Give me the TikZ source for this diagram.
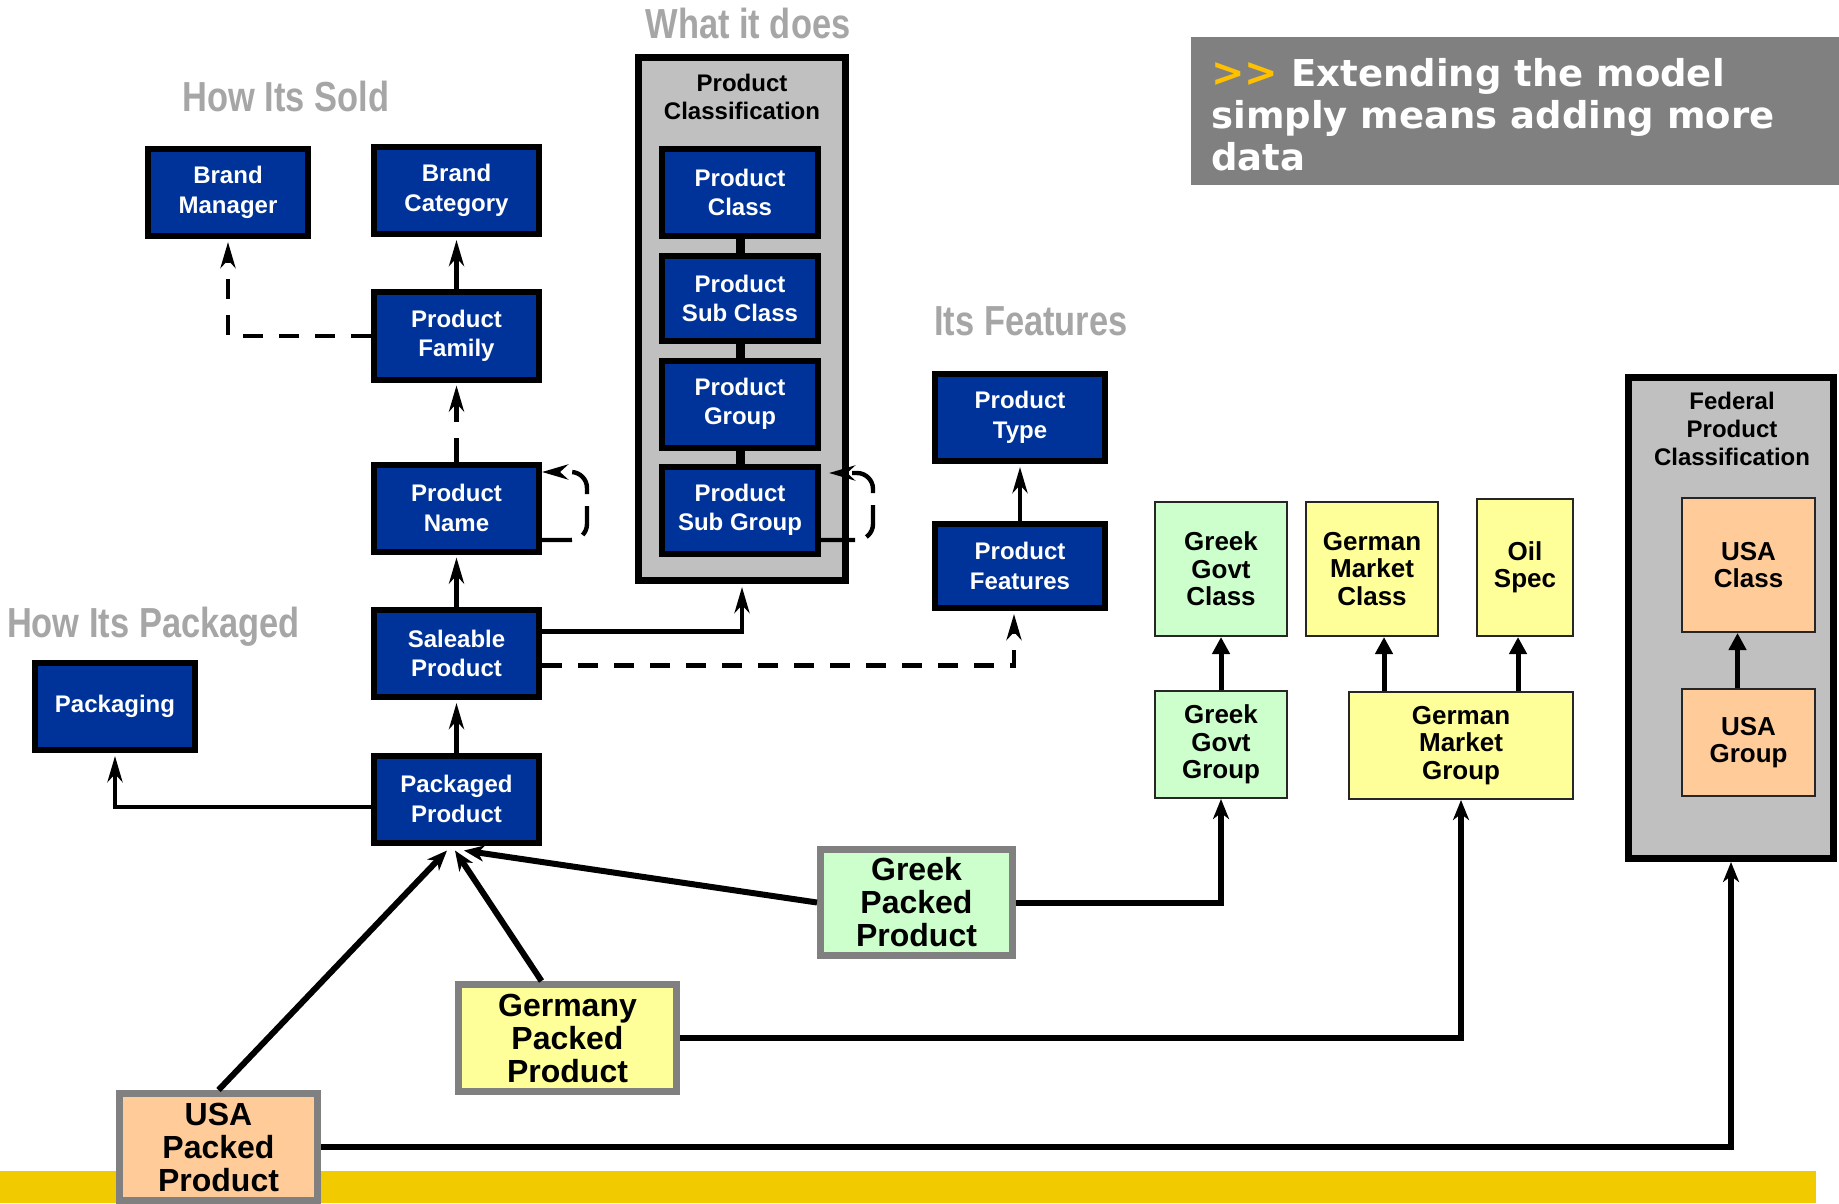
\documentclass[tikz,border=0pt]{standalone}
\usepackage{fontspec}
\setmainfont{Liberation Sans}
\newfontfamily\headfont{Liberation Sans}[FakeStretch=0.82]
\newfontfamily\bannerfont{DejaVu Sans}
\usepackage{tikz}
\usetikzlibrary{arrows.meta}
\definecolor{navybox}{RGB}{0,51,153}
\definecolor{greekbox}{RGB}{204,255,204}
\definecolor{germanbox}{RGB}{255,255,153}
\definecolor{usabox}{RGB}{255,204,153}
\definecolor{panelgrey}{RGB}{192,192,192}
\definecolor{bannergrey}{RGB}{128,128,128}
\definecolor{headgrey}{RGB}{166,166,166}
\definecolor{baryellow}{RGB}{242,202,0}
\definecolor{chevron}{RGB}{255,192,0}

\begin{document}
\begin{tikzpicture}[x=0.5pt, y=-0.5pt,
    navynode/.style={draw=black, line width=3pt, fill=navybox, text=white, font=\bfseries\fontsize{12}{14.75}\selectfont, align=center, inner sep=0pt, minimum width=82.5pt, minimum height=43.5pt},
    panel/.style={draw=black, line width=3.5pt, fill=panelgrey},
    lightnode/.style={draw=black!85, line width=1pt, font=\bfseries\fontsize{13}{13.75}\selectfont, align=center, inner sep=0pt, minimum width=66pt, minimum height=67pt},
    packed/.style={draw=bannergrey, line width=3.5pt, font=\bfseries\fontsize{16}{16.5}\selectfont, align=center, inner sep=0pt},
    heading/.style={text=headgrey, font=\headfont\bfseries\fontsize{21}{24}\selectfont},
    bluelink/.style={line width=2.2pt, shorten >=1.5pt, -{Stealth[length=13pt,width=7.5pt,inset=4pt]}},
    dashlink/.style={bluelink, dash pattern=on 10pt off 8pt},
    packlink/.style={line width=3pt, -{Stealth[length=10pt,width=8pt,inset=3pt]}},
    tlink/.style={line width=2.5pt, -{Triangle[length=8.5pt,width=8.5pt]}}]
          \useasboundingbox (0,0) rectangle (1839,1203);
          \fill[baryellow] (0,1171) rectangle (1816,1203);

          \node[heading] (whatdoes) at (748,23) {What it does};
          \node[heading] (howsold) at (286,96) {How Its Sold};
          \node[heading] (features) at (1031,321) {Its Features};
          \node[heading] (howpack) at (153.5,627) {How Its Packaged};

          \node[fill=bannergrey, minimum width=324pt, minimum height=74pt, inner sep=0pt] (banner) at (1515,111) {};
          \node[anchor=north west, inner sep=0pt, align=left, text=white, font=\bannerfont\bfseries\fontsize{18.5}{21}\selectfont] (bannertext) at (1211,58) {{\color{chevron}\fontsize{20}{21}\selectfont>>} Extending the model\\simply means adding more\\data};

          \node[navynode, minimum width=80pt] (bmgr) at (228,192.5) {Brand\\Manager};
          \node[navynode] (bcat) at (456.5,190.5) {Brand\\Category};
          \node[navynode] (pfam) at (456.5,336) {Product\\Family};
          \node[navynode] (pname) at (456.5,508) {Product\\Name};
          \node[navynode] (sale) at (456.5,653.5) {Saleable\\Product};
          \node[navynode] (ppack) at (456.5,799) {Packaged\\Product};
          \node[navynode, minimum width=80pt] (packg) at (115,706.5) {Packaging};

          \node[panel, minimum width=103.5pt, minimum height=261.5pt] (pclassif) at (742,319) {};
          \node[font=\bfseries\fontsize{12}{14}\selectfont, align=center] (pclasslabel) at (742,97) {Product\\Classification};
          \node[navynode, minimum width=78pt] (pcls) at (740,192.5) {Product\\Class};
          \node[navynode, minimum width=78pt, minimum height=42.5pt] (psubcls) at (740,298.5) {Product\\Sub Class};
          \node[navynode, minimum width=78pt] (pgrp) at (740,404) {Product\\Group};
          \node[navynode, minimum width=78pt] (psubgrp) at (740,510) {Product\\Sub Group};
          \draw[line width=4.5pt] (pcls) -- (psubcls);
          \draw[line width=4.5pt] (psubcls) -- (pgrp);
          \draw[line width=4.5pt] (pgrp) -- (psubgrp);

          \node[navynode, minimum width=85pt] (ptype) at (1020,417.5) {Product\\Type};
          \node[navynode, minimum width=85pt, minimum height=42pt] (pfeat) at (1020,566) {Product\\Features};

          \node[lightnode, fill=greekbox] (ggc) at (1221,569) {Greek\\Govt\\Class};
          \node[lightnode, fill=germanbox] (gmc) at (1372,569) {German\\Market\\Class};
          \node[lightnode, fill=germanbox, minimum width=48pt, minimum height=68.5pt] (oil) at (1525,567.5) {Oil\\Spec};
          \node[lightnode, fill=greekbox, minimum height=53.5pt] (ggg) at (1221,744.5) {Greek\\Govt\\Group};
          \node[lightnode, fill=germanbox, minimum width=112pt, minimum height=53.5pt] (gmg) at (1461,745.5) {German\\Market\\Group};

          \node[panel, minimum width=102.5pt, minimum height=240.5pt] (fed) at (1731,618) {};
          \node[font=\bfseries\fontsize{12}{14}\selectfont, align=center] (fedlabel) at (1732,429) {Federal\\Product\\Classification};
          \node[lightnode, fill=usabox, minimum width=66.5pt] (usac) at (1748.5,565) {USA\\Class};
          \node[lightnode, fill=usabox, minimum width=66.5pt, minimum height=53.5pt] (usag) at (1748.5,742.5) {USA\\Group};

          \node[packed, fill=greekbox, minimum width=96pt, minimum height=53pt] (gpp) at (916.5,902.5) {Greek\\Packed\\Product};
          \node[packed, fill=germanbox, minimum width=109pt, minimum height=53.5pt] (dpp) at (567.5,1038) {Germany\\Packed\\Product};
          \node[packed, fill=usabox, minimum width=99pt, minimum height=53.5pt] (upp) at (218.5,1147) {USA\\Packed\\Product};

          \draw[bluelink] (pfam) -- (bcat);
          \draw[dashlink, dash pattern=on 12pt off 8pt] (pname) -- (pfam);
          \draw[bluelink] (sale) -- (pname);
          \draw[bluelink] (ppack) -- (sale);
          \draw[dashlink] (pfam.west) -| (bmgr.south);
          \draw[bluelink] ([yshift=-4pt]ppack.west) -| (packg.south);
          \draw[bluelink] ([yshift=11pt]sale.east) -| (pclassif.south);
          \draw[dashlink] ([yshift=-6pt]sale.east) -| ([xshift=-3pt]pfeat.south);
          \draw[bluelink] (pfeat) -- (ptype);
          \draw[bluelink, shorten >=0pt, rounded corners=8pt, dash pattern=on 15pt off 6pt] ([yshift=-16pt]pname.east) -- ++(22.5pt,0pt) -- ++(0pt,34pt) -- ([yshift=18pt]pname.east);
          \draw[bluelink, shorten >=0pt, rounded corners=8pt, dash pattern=on 17pt off 6pt] ([yshift=-15pt]psubgrp.east) -- ++(26pt,0pt) -- ++(0pt,33.5pt) -- ([xshift=4pt,yshift=18.5pt]psubgrp.east);

          \draw[packlink] (upp.north) -- ([xshift=-4.75pt,yshift=-2.5pt]ppack.south);
          \draw[packlink] ([xshift=-13pt]dpp.north) -- ([xshift=-0.75pt,yshift=-2.5pt]ppack.south);
          \draw[packlink] (gpp.west) -- ([xshift=3.75pt,yshift=-2.5pt]ppack.south);
          \draw[packlink] (gpp.east) -| (ggg.south);
          \draw[packlink] (dpp.east) -| (gmg.south);
          \draw[packlink] (upp.east) -| (fed.south);

          \draw[tlink] (ggg) -- (ggc);
          \draw[tlink] ([xshift=6pt]gmc.south |- gmg.north) -- ([xshift=6pt]gmc.south);
          \draw[tlink] ([xshift=-3.5pt]oil.south |- gmg.north) -- ([xshift=-3.5pt]oil.south);
          \draw[tlink] ([xshift=-5.5pt]usag.north) -- ([xshift=-5.5pt]usac.south);
        \end{tikzpicture}
\end{document}
